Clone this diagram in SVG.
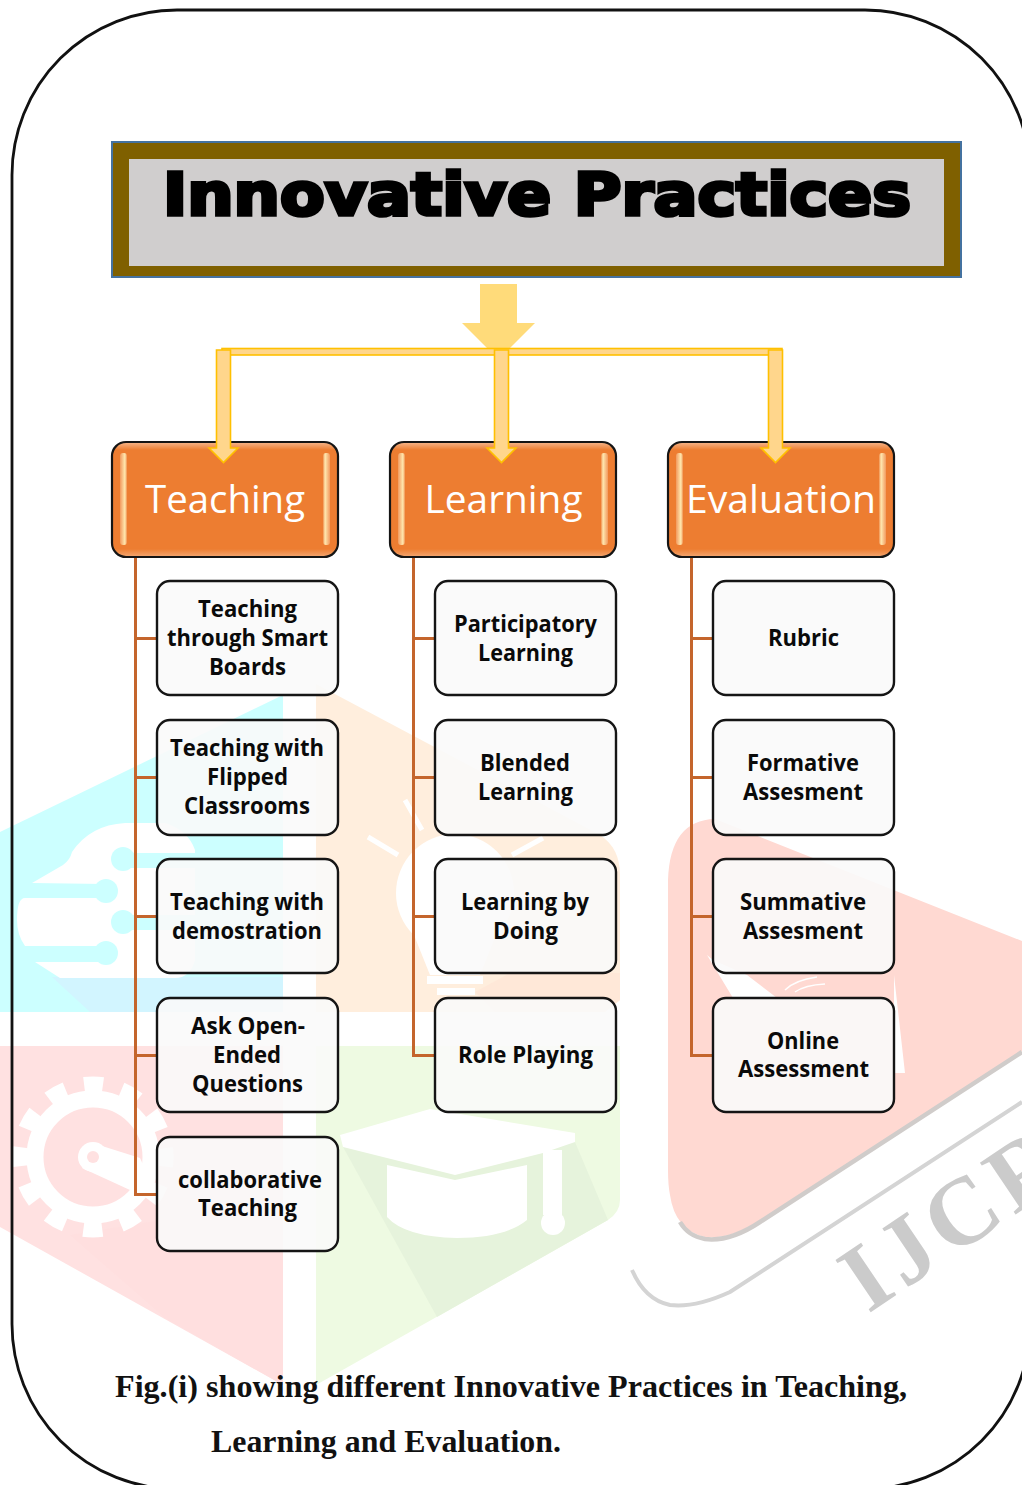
<svg xmlns="http://www.w3.org/2000/svg" width="1022" height="1485" viewBox="0 0 1022 1485">
<style>
.c{font-family:"Open Sans","Noto Sans",sans-serif;font-weight:700;font-size:22.5px;fill:#0a0a0a;text-anchor:middle}
.h{font-family:"Open Sans","Noto Sans",sans-serif;font-weight:400;font-size:38px;fill:#fff;text-anchor:middle}
.cap{font-family:"Liberation Serif",serif;font-weight:700;font-size:32px;fill:#111}
.conn{fill:none;stroke:#C4652C;stroke-width:3}
.head{fill:url(#gv);stroke:#151515;stroke-width:2.2}
.kid{fill:#fafafa;fill-opacity:.9;stroke:#151515;stroke-width:2.4}
.ya{fill:#FFD68C;stroke:#FFC000;stroke-width:1.6}
.bar{stroke:none}
</style>
<defs>
<linearGradient id="gv" x1="0" y1="0" x2="0" y2="1"><stop offset="0" stop-color="#F6B88E"/><stop offset=".07" stop-color="#ED7D31"/><stop offset=".93" stop-color="#ED7D31"/><stop offset="1" stop-color="#F3A873"/></linearGradient>
<linearGradient id="gl" x1="0" y1="0" x2="1" y2="0"><stop offset="0" stop-color="#F2995E"/><stop offset=".7" stop-color="#FFE9B0"/><stop offset="1" stop-color="#F0904F"/></linearGradient>
<linearGradient id="gr" x1="1" y1="0" x2="0" y2="0"><stop offset="0" stop-color="#F2995E"/><stop offset=".7" stop-color="#FFE9B0"/><stop offset="1" stop-color="#F0904F"/></linearGradient>
</defs>
<rect width="1022" height="1485" fill="#fff"/>
<g id="watermark">
<path d="M0 832L283 695V1012H0Z" fill="#CCFFFF"/>
<path d="M52 977H283V1012H90Z" fill="#D2F5FF"/>
<path d="M32 883L63 865Q70 860 72 852Q90 825 125 823H165Q188 830 195 850V960Q190 978 175 978H60L35 962H105V946H25Q17 935 17 920Q17 898 25 898H105V884Z" fill="#fff"/>
<g fill="#CCFFFF"><rect x="32" y="884" width="74" height="14"/><circle cx="106" cy="891" r="12"/><circle cx="123" cy="859" r="12"/><rect x="123" y="853" width="80" height="15"/><circle cx="123" cy="922" r="12"/><rect x="123" y="915" width="80" height="15"/><rect x="25" y="947" width="81" height="14"/><circle cx="106" cy="953" r="12"/></g>
<path d="M316 684L600 835Q620 848 620 875V1000L605 1012H316Z" fill="#FFEEDD"/>
<path d="M475 992L510 973H620V1000L605 1012H495Z" fill="#FFE8D8"/>
<g fill="#fff"><circle cx="455" cy="893" r="59"/><path d="M412 930H498L480 975H430Z"/><rect x="427" y="976" width="56" height="8"/><rect x="437" y="988" width="38" height="7"/></g>
<path d="M368 837L398 855M405 800L422 830M512 855L543 838" stroke="#fff" stroke-width="5" fill="none"/>
<path d="M0 1046H283V1385L0 1227Z" fill="#FFE1E1"/>
<path d="M70 1235L283 1200V1385L165 1318Z" fill="#FFDFDF"/>
<g fill="none" stroke="#fff"><circle cx="93" cy="1157" r="73" stroke-width="15" stroke-dasharray="19.100 19.120" stroke-dashoffset="9.550"/><circle cx="93" cy="1157" r="58" stroke-width="17"/></g>
<path d="M82 1168L130 1190L150 1180L140 1158L102 1146Z" fill="#fff"/><circle cx="93" cy="1157" r="15" fill="#fff"/><circle cx="93" cy="1157" r="6" fill="#FFE1E1"/>
<path d="M316 1046H620V1200Q620 1212 608 1220L316 1385Z" fill="#EEFAE2"/>
<path d="M343 1147L437 1317L608 1220L575 1142Z" fill="#E6F3DC"/>
<g fill="#fff"><path d="M340 1135L430 1109L575 1133V1142L543 1153L455 1175L343 1147Z"/><path d="M387 1165L455 1180L527 1165V1220Q505 1238 457 1238Q405 1237 387 1217Z"/><path d="M543 1150H562V1215H543Z"/><circle cx="553" cy="1223" r="12"/></g>
<path d="M668 880Q670 820 715 819L1022 941V1051L760 1220Q730 1240 705 1237Q675 1230 670 1195Q668 1185 668 1170Z" fill="#FFD9D2"/>
<path d="M1022 1052L760 1222Q730 1242 705 1239Q688 1236 680 1222" fill="none" stroke="#D0CCCA" stroke-width="4.500"/>
<path d="M1022 1102L730 1292Q695 1308 670 1305Q645 1300 632 1270" fill="none" stroke="#d4d4d4" stroke-width="4"/>
<path d="M707 955L733 998H777L747 975L713 960ZM894 975L905 1073H894Z" fill="#fff"/>
<path d="M785 990Q795 980 817 977M795 992Q805 985 825 984" stroke="#fff" stroke-width="1.500" fill="none"/>
<text transform="translate(868 1314) rotate(-34)" font-family="Liberation Serif,serif" font-weight="700" font-size="96" letter-spacing="7" fill="#CBCBCB">IJCR</text>
</g>
<rect id="frame" x="12" y="10" width="1018" height="1479" rx="165" ry="165" fill="none" stroke="#111" stroke-width="2.800"/>
<g id="title"><rect x="111" y="141" width="851" height="137" fill="#4472A0"/><rect x="113" y="143" width="847" height="133" fill="#7F6000"/><rect x="129" y="159" width="815" height="107" fill="#D0CECE"/>
<text x="163" y="215" font-family="DejaVu Sans,sans-serif" font-weight="700" font-size="58" fill="#000" stroke="#000" stroke-width="3.600" stroke-linejoin="miter" textLength="748" lengthAdjust="spacingAndGlyphs">Innovative Practices</text></g>
<g id="branches">
<path class="conn" d="M135.500 557V1194.500H157M135.500 638.500H157M135.500 777.500H157M135.500 916.500H157M135.500 1055.500H157"/>
<path class="conn" d="M413.500 557V1055.500H435M413.500 638.500H435M413.500 777.500H435M413.500 916.500H435"/>
<path class="conn" d="M691.500 557V1055.500H713M691.500 638.500H713M691.500 777.500H713M691.500 916.500H713"/>
</g>
<g id="n-teaching"><rect class="head" x="112" y="442" width="226" height="115" rx="14"/><rect class="bar" x="120" y="453" width="7" height="92" rx="3" fill="url(#gl)"/><rect class="bar" x="323" y="453" width="7" height="92" rx="3" fill="url(#gr)"/><text class="h" x="225" y="513" textLength="160" lengthAdjust="spacingAndGlyphs">Teaching</text></g>
<g id="n-learning"><rect class="head" x="390" y="442" width="226" height="115" rx="14"/><rect class="bar" x="398" y="453" width="7" height="92" rx="3" fill="url(#gl)"/><rect class="bar" x="601" y="453" width="7" height="92" rx="3" fill="url(#gr)"/><text class="h" x="503.500" y="513" textLength="158" lengthAdjust="spacingAndGlyphs">Learning</text></g>
<g id="n-evaluation"><rect class="head" x="668" y="442" width="226" height="115" rx="14"/><rect class="bar" x="676" y="453" width="7" height="92" rx="3" fill="url(#gl)"/><rect class="bar" x="879" y="453" width="7" height="92" rx="3" fill="url(#gr)"/><text class="h" x="781" y="513" textLength="190" lengthAdjust="spacingAndGlyphs">Evaluation</text></g>
<g id="connectors">
<path d="M480 284H517V323H535L508 350H489L462 323H480Z" fill="#FFDB7A"/>
<rect class="ya" x="222" y="348.500" width="560" height="6.500"/>
<path class="ya" d="M216.500 350H230.500V448H238L223.500 462.500L209 448H216.500Z"/>
<path class="ya" d="M494.500 350H508.500V448H516L501.500 462.500L487 448H494.500Z"/>
<path class="ya" d="M768.500 350H782.500V448H790L775.500 462.500L761 448H768.500Z"/>
</g>
<g id="n-t1"><rect class="kid" x="157" y="581" width="181" height="114" rx="13"/><text class="c" x="247.500" y="617" textLength="99" lengthAdjust="spacingAndGlyphs">Teaching</text><text class="c" x="247.500" y="646" textLength="161" lengthAdjust="spacingAndGlyphs">through Smart</text><text class="c" x="247.500" y="675" textLength="77" lengthAdjust="spacingAndGlyphs">Boards</text></g>
<g id="n-t2"><rect class="kid" x="157" y="720" width="181" height="115" rx="13"/><text class="c" x="247" y="756" textLength="154" lengthAdjust="spacingAndGlyphs">Teaching with</text><text class="c" x="247.500" y="785" textLength="81" lengthAdjust="spacingAndGlyphs">Flipped</text><text class="c" x="247" y="814" textLength="126" lengthAdjust="spacingAndGlyphs">Classrooms</text></g>
<g id="n-t3"><rect class="kid" x="157" y="859" width="181" height="114" rx="13"/><text class="c" x="247" y="910" textLength="154" lengthAdjust="spacingAndGlyphs">Teaching with</text><text class="c" x="247" y="939" textLength="150" lengthAdjust="spacingAndGlyphs">demostration</text></g>
<g id="n-t4"><rect class="kid" x="157" y="998" width="181" height="114" rx="13"/><text class="c" x="248" y="1034" textLength="114" lengthAdjust="spacingAndGlyphs">Ask Open-</text><text class="c" x="247" y="1063" textLength="68" lengthAdjust="spacingAndGlyphs">Ended</text><text class="c" x="247.500" y="1092" textLength="111" lengthAdjust="spacingAndGlyphs">Questions</text></g>
<g id="n-t5"><rect class="kid" x="157" y="1137" width="181" height="114" rx="13"/><text class="c" x="250" y="1188" textLength="144" lengthAdjust="spacingAndGlyphs">collaborative</text><text class="c" x="247.500" y="1216" textLength="99" lengthAdjust="spacingAndGlyphs">Teaching</text></g>
<g id="n-l1"><rect class="kid" x="435" y="581" width="181" height="114" rx="13"/><text class="c" x="525.500" y="632" textLength="143" lengthAdjust="spacingAndGlyphs">Participatory</text><text class="c" x="525.500" y="661" textLength="95" lengthAdjust="spacingAndGlyphs">Learning</text></g>
<g id="n-l2"><rect class="kid" x="435" y="720" width="181" height="115" rx="13"/><text class="c" x="525" y="771" textLength="90" lengthAdjust="spacingAndGlyphs">Blended</text><text class="c" x="525.500" y="800" textLength="95" lengthAdjust="spacingAndGlyphs">Learning</text></g>
<g id="n-l3"><rect class="kid" x="435" y="859" width="181" height="114" rx="13"/><text class="c" x="525" y="910" textLength="128" lengthAdjust="spacingAndGlyphs">Learning by</text><text class="c" x="525.500" y="939" textLength="65" lengthAdjust="spacingAndGlyphs">Doing</text></g>
<g id="n-l4"><rect class="kid" x="435" y="998" width="181" height="114" rx="13"/><text class="c" x="525.500" y="1063" textLength="135" lengthAdjust="spacingAndGlyphs">Role Playing</text></g>
<g id="n-e1"><rect class="kid" x="713" y="581" width="181" height="114" rx="13"/><text class="c" x="803.500" y="646" textLength="71" lengthAdjust="spacingAndGlyphs">Rubric</text></g>
<g id="n-e2"><rect class="kid" x="713" y="720" width="181" height="115" rx="13"/><text class="c" x="803" y="771" textLength="112" lengthAdjust="spacingAndGlyphs">Formative</text><text class="c" x="803" y="800" textLength="120" lengthAdjust="spacingAndGlyphs">Assesment</text></g>
<g id="n-e3"><rect class="kid" x="713" y="859" width="181" height="114" rx="13"/><text class="c" x="803" y="910" textLength="126" lengthAdjust="spacingAndGlyphs">Summative</text><text class="c" x="803" y="939" textLength="120" lengthAdjust="spacingAndGlyphs">Assesment</text></g>
<g id="n-e4"><rect class="kid" x="713" y="998" width="181" height="114" rx="13"/><text class="c" x="803" y="1049" textLength="72" lengthAdjust="spacingAndGlyphs">Online</text><text class="c" x="803.500" y="1077" textLength="131" lengthAdjust="spacingAndGlyphs">Assessment</text></g>
<g id="caption"><text class="cap" x="115" y="1397" textLength="792" lengthAdjust="spacingAndGlyphs">Fig.(i) showing different Innovative Practices in Teaching,</text><text class="cap" x="211" y="1452" textLength="350" lengthAdjust="spacingAndGlyphs">Learning and Evaluation.</text></g>
</svg>
